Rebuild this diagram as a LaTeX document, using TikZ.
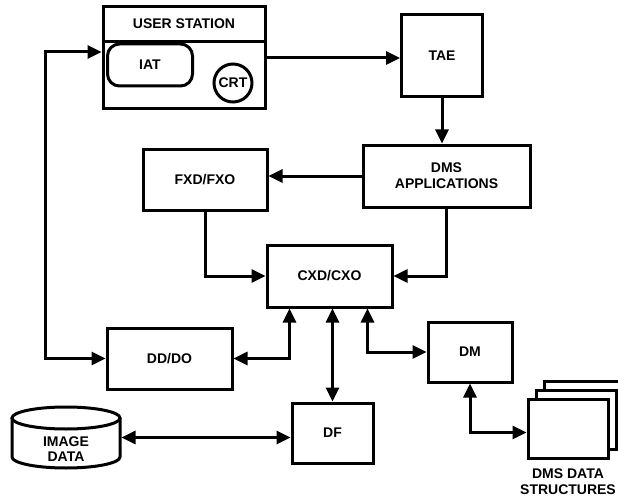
\documentclass[tikz,border=0pt]{standalone}
\usepackage{fontspec}
\setmainfont{Liberation Sans}
\usepackage{tikz}
\usetikzlibrary{arrows.meta}

\begin{document}
\begin{tikzpicture}[
  x=1pt,
  y=-1pt,
  line width=3pt,
  every node/.style={font=\fontsize{14}{16}\selectfont\bfseries},
  unit/.style={draw, rectangle, inner sep=0pt, align=center},
  terminal/.style={draw, rounded corners=12pt, inner sep=0pt, minimum width=85pt, minimum height=42pt},
  screen/.style={draw, circle, inner sep=0pt, minimum size=38pt},
  page/.style={draw, fill=white, rectangle, minimum width=80pt, minimum height=59pt},
  flow/.style={-{Triangle[length=14pt,width=13pt]}},
  link/.style={{Triangle[length=14pt,width=13pt]}-{Triangle[length=14pt,width=13pt]}},
  caption/.style={align=center, inner sep=0pt}
]
  \useasboundingbox (0,0) rectangle (618,500);

  % user station with its parts
  \node[unit, minimum width=162pt, minimum height=102pt] (us) at (184,58) {};
  \node (ustitle) at (184,24) {USER STATION};
  \coordinate (hdr) at (0,42);
  \draw (us.west |- hdr) -- (us.east |- hdr);
  \node[terminal] (iat) at (150,65) {IAT};
  \node[screen] (crt) at (233,83) {CRT};

  \node[unit, minimum width=81pt, minimum height=82pt] (tae) at (442,56) {TAE};
  \node[unit, minimum width=167pt, minimum height=62pt] (dms) at (446.5,176) {DMS\\APPLICATIONS};
  \node[unit, minimum width=124pt, minimum height=61pt] (fxd) at (205,179.5) {FXD/FXO};
  \node[unit, minimum width=125pt, minimum height=62pt] (cxd) at (329.5,276) {CXD/CXO};
  \node[unit, minimum width=125pt, minimum height=61pt] (dd) at (169.5,358.5) {DD/DO};
  \node[unit, minimum width=81pt, minimum height=60pt] (df) at (332.5,433) {DF};
  \node[unit, minimum width=84pt, minimum height=60pt] (dm) at (470,352) {DM};

  % stacked data structures
  \node[page] (ds2) at (584,410.5) {};
  \node[page] (ds1) at (576,419.5) {};
  \node[page] (ds) at (568,428.5) {};
  \node[caption] (dslabel) at (568,482) {DMS DATA\\STRUCTURES};

  % image data drum
  \node[minimum width=108pt, minimum height=61pt, inner sep=0pt] (img) at (66,437.5) {};
  \draw (66,418) ellipse [x radius=54pt, y radius=11pt];
  \draw (12,418) -- (12,457) arc[start angle=180, end angle=360, x radius=54pt, y radius=11pt] -- (120,418);
  \node[caption, font=\fontsize{14}{15}\selectfont\bfseries] (imgtext) at (66,449) {IMAGE\\DATA};

  % connectors
  \draw[link] ([yshift=6pt]us.west) -- ++(-56,0) |- (dd.west);
  \draw[flow] (us.east) -- (us.east -| tae.west);
  \draw[flow] (tae.south) -- (tae.south |- dms.north);
  \draw[flow] (dms.west) -- (dms.west -| fxd.east);
  \draw[flow] (fxd.south) |- (cxd.west);
  \draw[flow] (dms.south) |- (cxd.east);
  \draw[link] (dd.east) -| ([xshift=-40pt]cxd.south);
  \draw[link] (df.north) -- (df.north |- cxd.south);
  \draw[link] ([xshift=38pt]cxd.south) |- (dm.west);
  \draw[link] (dm.south) |- ([yshift=-4pt]ds.west);
  \draw[link] (img.east) -- (img.east -| df.west);
\end{tikzpicture}
\end{document}
